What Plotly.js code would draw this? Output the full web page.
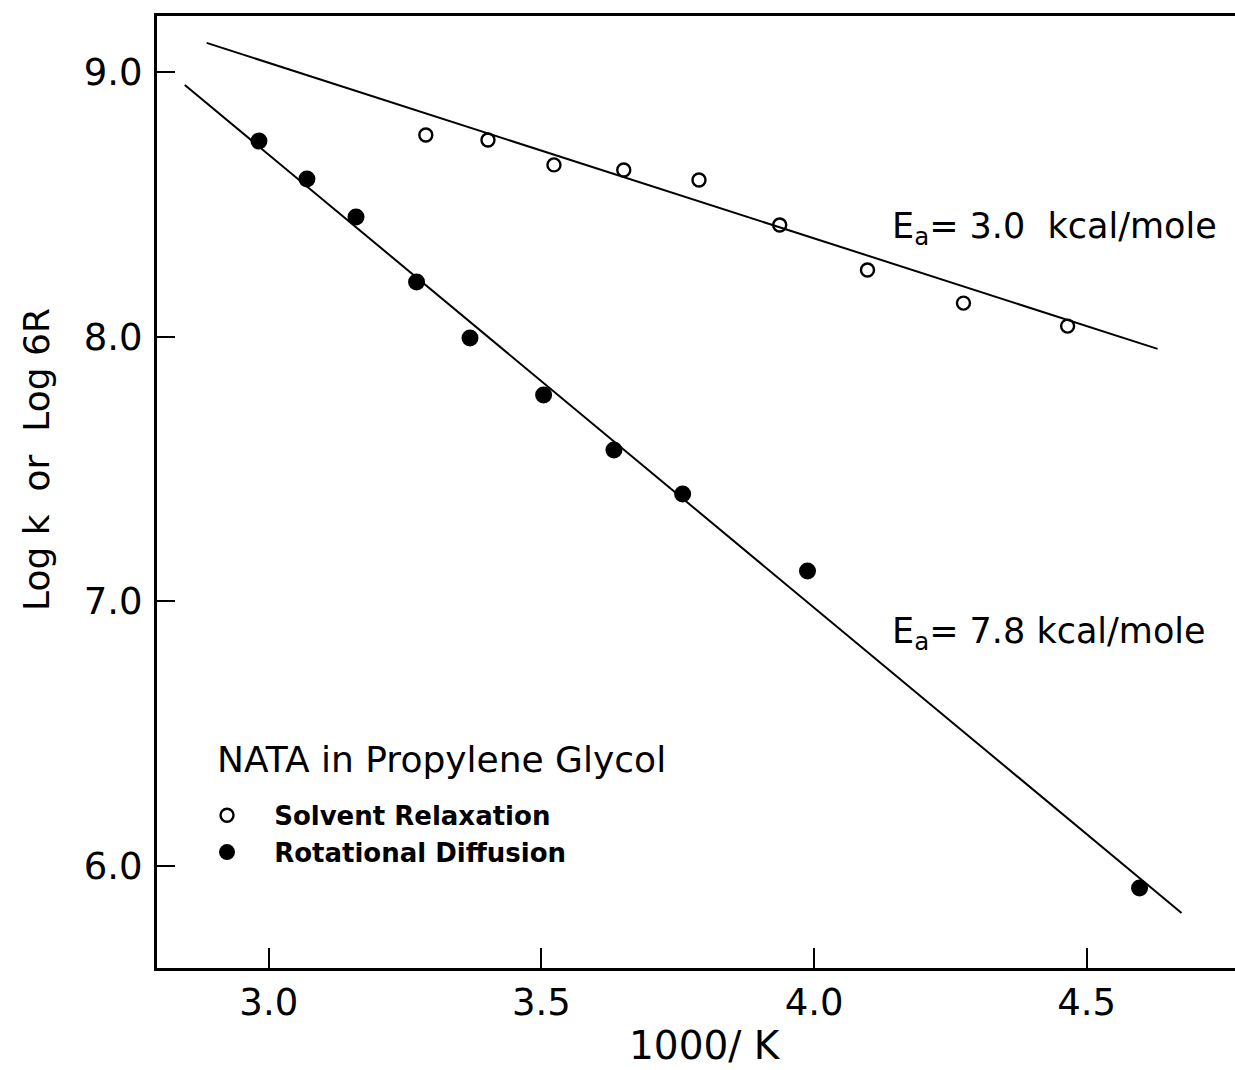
<!DOCTYPE html>
<html>
<head>
<meta charset="utf-8">
<script src="https://cdn.plot.ly/plotly-3.0.1.min.js"></script>
<style>html,body{margin:0;padding:0;background:#fff;}#chart{width:1235px;height:1070px;}</style>
</head>
<body>
<div id="chart"></div>
<script>
// Solvent relaxation (open circles)
const solventX = [3.288, 3.402, 3.523, 3.651, 3.789, 3.937, 4.098, 4.274, 4.465];
const solventY = [8.762, 8.743, 8.649, 8.630, 8.592, 8.422, 8.252, 8.127, 8.040];
// Rotational diffusion (filled circles)
const rotX = [2.982, 3.070, 3.160, 3.271, 3.369, 3.504, 3.633, 3.759, 3.988, 4.597];
const rotY = [8.739, 8.596, 8.452, 8.207, 7.995, 7.780, 7.572, 7.406, 7.115, 5.917];
// Fit lines (endpoints)
const fitSolventX = [2.886, 4.630];
const fitSolventY = [9.110, 7.954];
const fitRotX = [2.846, 4.674];
const fitRotY = [8.951, 5.823];
// Tick labels
const xTickVals = [3.0, 3.5, 4.0, 4.5];
const xTickText = ["3.0", "3.5", "4.0", "4.5"];
const yTickVals = [6.0, 7.0, 8.0, 9.0];
const yTickText = ["6.0", "7.0", "8.0", "9.0"];

const FONT = "DejaVu Sans, Liberation Sans, sans-serif";
const PAD = "\u00a0\u00a0\u00a0";

const traces = [
  {x: fitSolventX, y: fitSolventY, mode: 'lines', line: {color: '#000', width: 2}, showlegend: false, hoverinfo: 'skip'},
  {x: fitRotX, y: fitRotY, mode: 'lines', line: {color: '#000', width: 2}, showlegend: false, hoverinfo: 'skip'},
  {x: solventX, y: solventY, mode: 'markers', name: PAD + 'Solvent Relaxation',
   marker: {symbol: 'circle-open', size: 13, color: '#000', line: {width: 2.4, color: '#000'}}},
  {x: rotX, y: rotY, mode: 'markers', name: PAD + 'Rotational Diffusion',
   marker: {symbol: 'circle', size: 17, color: '#000'}}
];

const layout = {
  width: 1235, height: 1070,
  margin: {l: 157, r: 0, t: 16, b: 102},
  paper_bgcolor: '#fff', plot_bgcolor: '#fff',
  font: {family: FONT, color: '#000'},
  showlegend: true,
  legend: {
    x: 0.0464, y: 0.185, xanchor: 'left', yanchor: 'top',
    bgcolor: 'rgba(0,0,0,0)',
    font: {family: FONT, size: 26, weight: 'bold', color: '#000'},
    tracegroupgap: 0, itemsizing: 'trace'
  },
  xaxis: {
    range: [2.795, 4.772],
    showgrid: false, zeroline: false,
    showline: true, linecolor: '#000', linewidth: 3, mirror: true,
    ticks: 'inside', ticklen: 20, tickwidth: 2, tickcolor: '#000',
    tickvals: xTickVals, ticktext: xTickText,
    tickfont: {family: FONT, size: 37, color: '#000'}
  },
  yaxis: {
    range: [5.615, 9.2116],
    showgrid: false, zeroline: false,
    showline: true, linecolor: '#000', linewidth: 3,
    ticks: 'inside', ticklen: 18, tickwidth: 2, tickcolor: '#000',
    tickvals: yTickVals, ticktext: yTickText,
    ticklabelstandoff: 4,
    tickfont: {family: FONT, size: 37, color: '#000'}
  },
  annotations: [
    {xref: 'paper', yref: 'paper', x: 0.508, y: -0.081, xanchor: 'center', yanchor: 'middle', borderpad: 0,
     text: '1000/ K', showarrow: false, font: {family: FONT, size: 39, color: '#000'}},
    {xref: 'paper', yref: 'paper', x: -0.112, y: 0.534, xanchor: 'center', yanchor: 'middle',
     text: 'Log k  or  Log 6R', textangle: -90, showarrow: false, font: {family: FONT, size: 36, color: '#000'}},
    {xref: 'paper', yref: 'paper', x: 0.0538, y: 0.2185, xanchor: 'left', yanchor: 'middle',
     text: 'NATA in Propylene Glycol', showarrow: false, font: {family: FONT, size: 36, color: '#000'}},
    {xref: 'x', yref: 'y', x: 4.14, y: 8.41, xanchor: 'left', yanchor: 'middle',
     text: 'E<sub>a</sub>= 3.0  kcal/mole', showarrow: false, font: {family: FONT, size: 35, color: '#000'}},
    {xref: 'x', yref: 'y', x: 4.14, y: 6.88, xanchor: 'left', yanchor: 'middle',
     text: 'E<sub>a</sub>= 7.8 kcal/mole', showarrow: false, font: {family: FONT, size: 35, color: '#000'}}
  ]
};

Plotly.newPlot('chart', traces, layout, {displayModeBar: false, staticPlot: true});
</script>
</body>
</html>
